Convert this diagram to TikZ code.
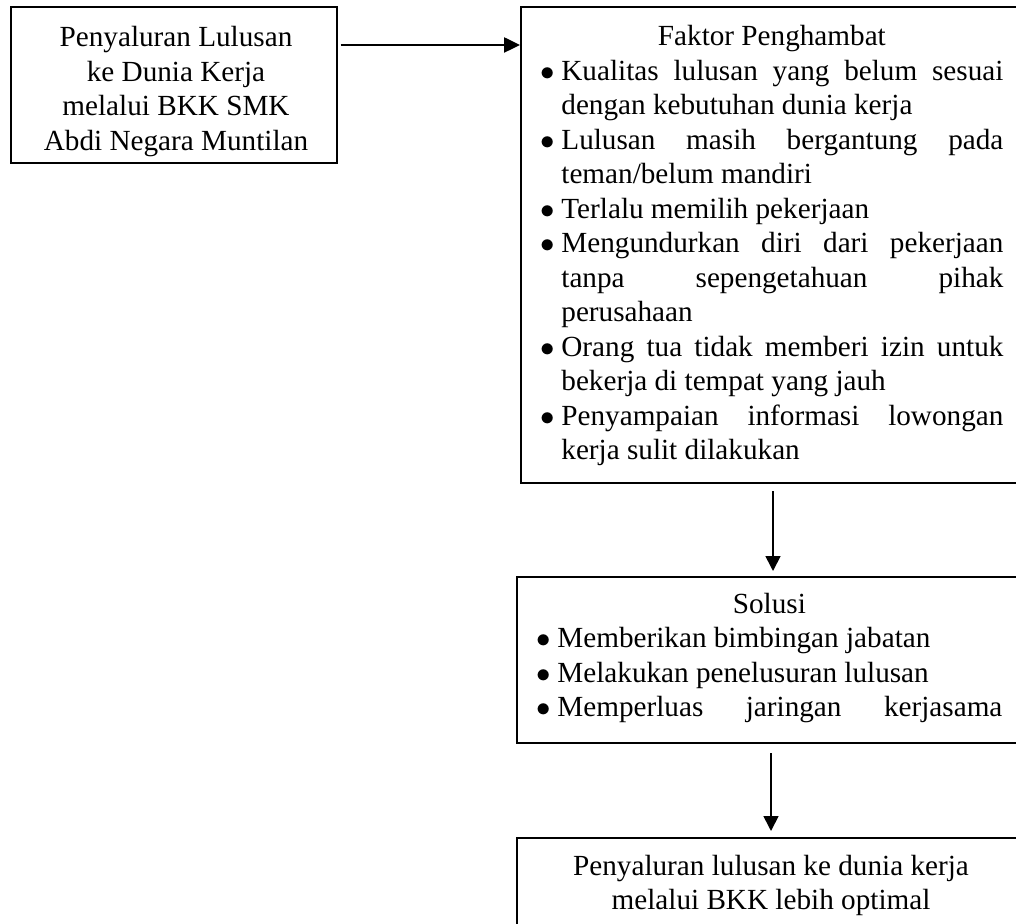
\documentclass[tikz,border=0pt]{standalone}
\usepackage{fontspec}
\setmainfont{Liberation Serif}
\usetikzlibrary{arrows.meta,fit}
\newlength\tw
\newlength\hg
\newcommand\LJ[1]{\hbox{\hskip\hg\hbox to \tw{#1}}}
\newcommand\LL[1]{\hbox{\hskip\hg\hbox to \tw{#1\hfil}}}
\newcommand\BJ[1]{\hbox{\hbox to \hg{$\bullet$\hfil}\hbox to \tw{#1}}}
\newcommand\BL[1]{\hbox{\hbox to \hg{$\bullet$\hfil}\hbox to \tw{#1\hfil}}}
\newcommand\CT[1]{\hbox to \dimexpr\hg+\tw\relax{\hfil #1\hfil}}
\newcommand\CL[1]{\hbox to 160pt{\hfil #1\hfil}}
\begin{document}
\begin{tikzpicture}[x=0.5pt,y=-0.5pt,
  font=\fontsize{14.6pt}{17.25pt}\selectfont,
  box/.style={draw, inner sep=0pt, line width=1pt},
  txt/.style={inner sep=0pt},
  harr/.style={line width=1.25pt, -{Triangle[length=8pt,width=7.5pt]}},
  varr/.style={line width=0.85pt, -{Triangle[length=7.5pt,width=7.5pt]}}]
\useasboundingbox (0,0) rectangle (1016,924);
\clip (0,0) rectangle (1016,924);
% boxes
\node[box, line width=0.7pt, fit={(11,7) (337,163)}] (src) {};
\node[box, fit={(521,7) (1040,483)}] (fak) {};
\node[box, fit={(517,577) (1040,743)}] (sol) {};
\node[box, fit={(517,838) (1040,970)}] (res) {};
% texts
\node[txt, anchor=base] (srct) at (176,47) {\vtop{%
  \CL{Penyaluran Lulusan}
  \CL{ke Dunia Kerja}
  \CL{melalui BKK SMK}
  \CL{Abdi Negara Muntilan}}};
\node[txt, anchor=base west] (fakt) at (540,46) {\setlength\hg{10.5pt}\setlength\tw{221pt}\vtop{%
  \CT{Faktor Penghambat}
  \BJ{Kualitas lulusan yang belum sesuai}
  \LL{dengan kebutuhan dunia kerja}
  \BJ{Lulusan masih bergantung pada}
  \LL{teman/belum mandiri}
  \BL{Terlalu memilih pekerjaan}
  \BJ{Mengundurkan diri dari pekerjaan}
  \LJ{tanpa sepengetahuan pihak}
  \LL{perusahaan}
  \BJ{Orang tua tidak memberi izin untuk}
  \LL{bekerja di tempat yang jauh}
  \BJ{Penyampaian informasi lowongan}
  \LL{kerja sulit dilakukan}}};
\node[txt, anchor=base west] (solt) at (536,613) {\setlength\hg{10.5pt}\setlength\tw{222.5pt}\vtop{%
  \CT{Solusi}
  \BL{Memberikan bimbingan jabatan}
  \BL{Melakukan penelusuran lulusan}
  \BJ{Memperluas jaringan kerjasama}}};
\node[txt, anchor=base] (rest) at (771,875) {\vtop{%
  \hbox to 220pt{\hfil Penyaluran lulusan ke dunia kerja\hfil}
  \hbox to 220pt{\hfil melalui BKK lebih optimal\hfil}}};
% connectors
\coordinate (ay) at (0,45);
\coordinate (ax1) at (773,0);
\coordinate (ax2) at (771,0);
\draw[harr, shorten <=1.5pt] (src.east |- ay) -- (fak.west |- ay);
\draw[varr, shorten <=3.5pt, shorten >=2.5pt] (fak.south -| ax1) -- (sol.north -| ax1);
\draw[varr, shorten <=4.5pt, shorten >=3pt] (sol.south -| ax2) -- (res.north -| ax2);
\end{tikzpicture}
\end{document}
